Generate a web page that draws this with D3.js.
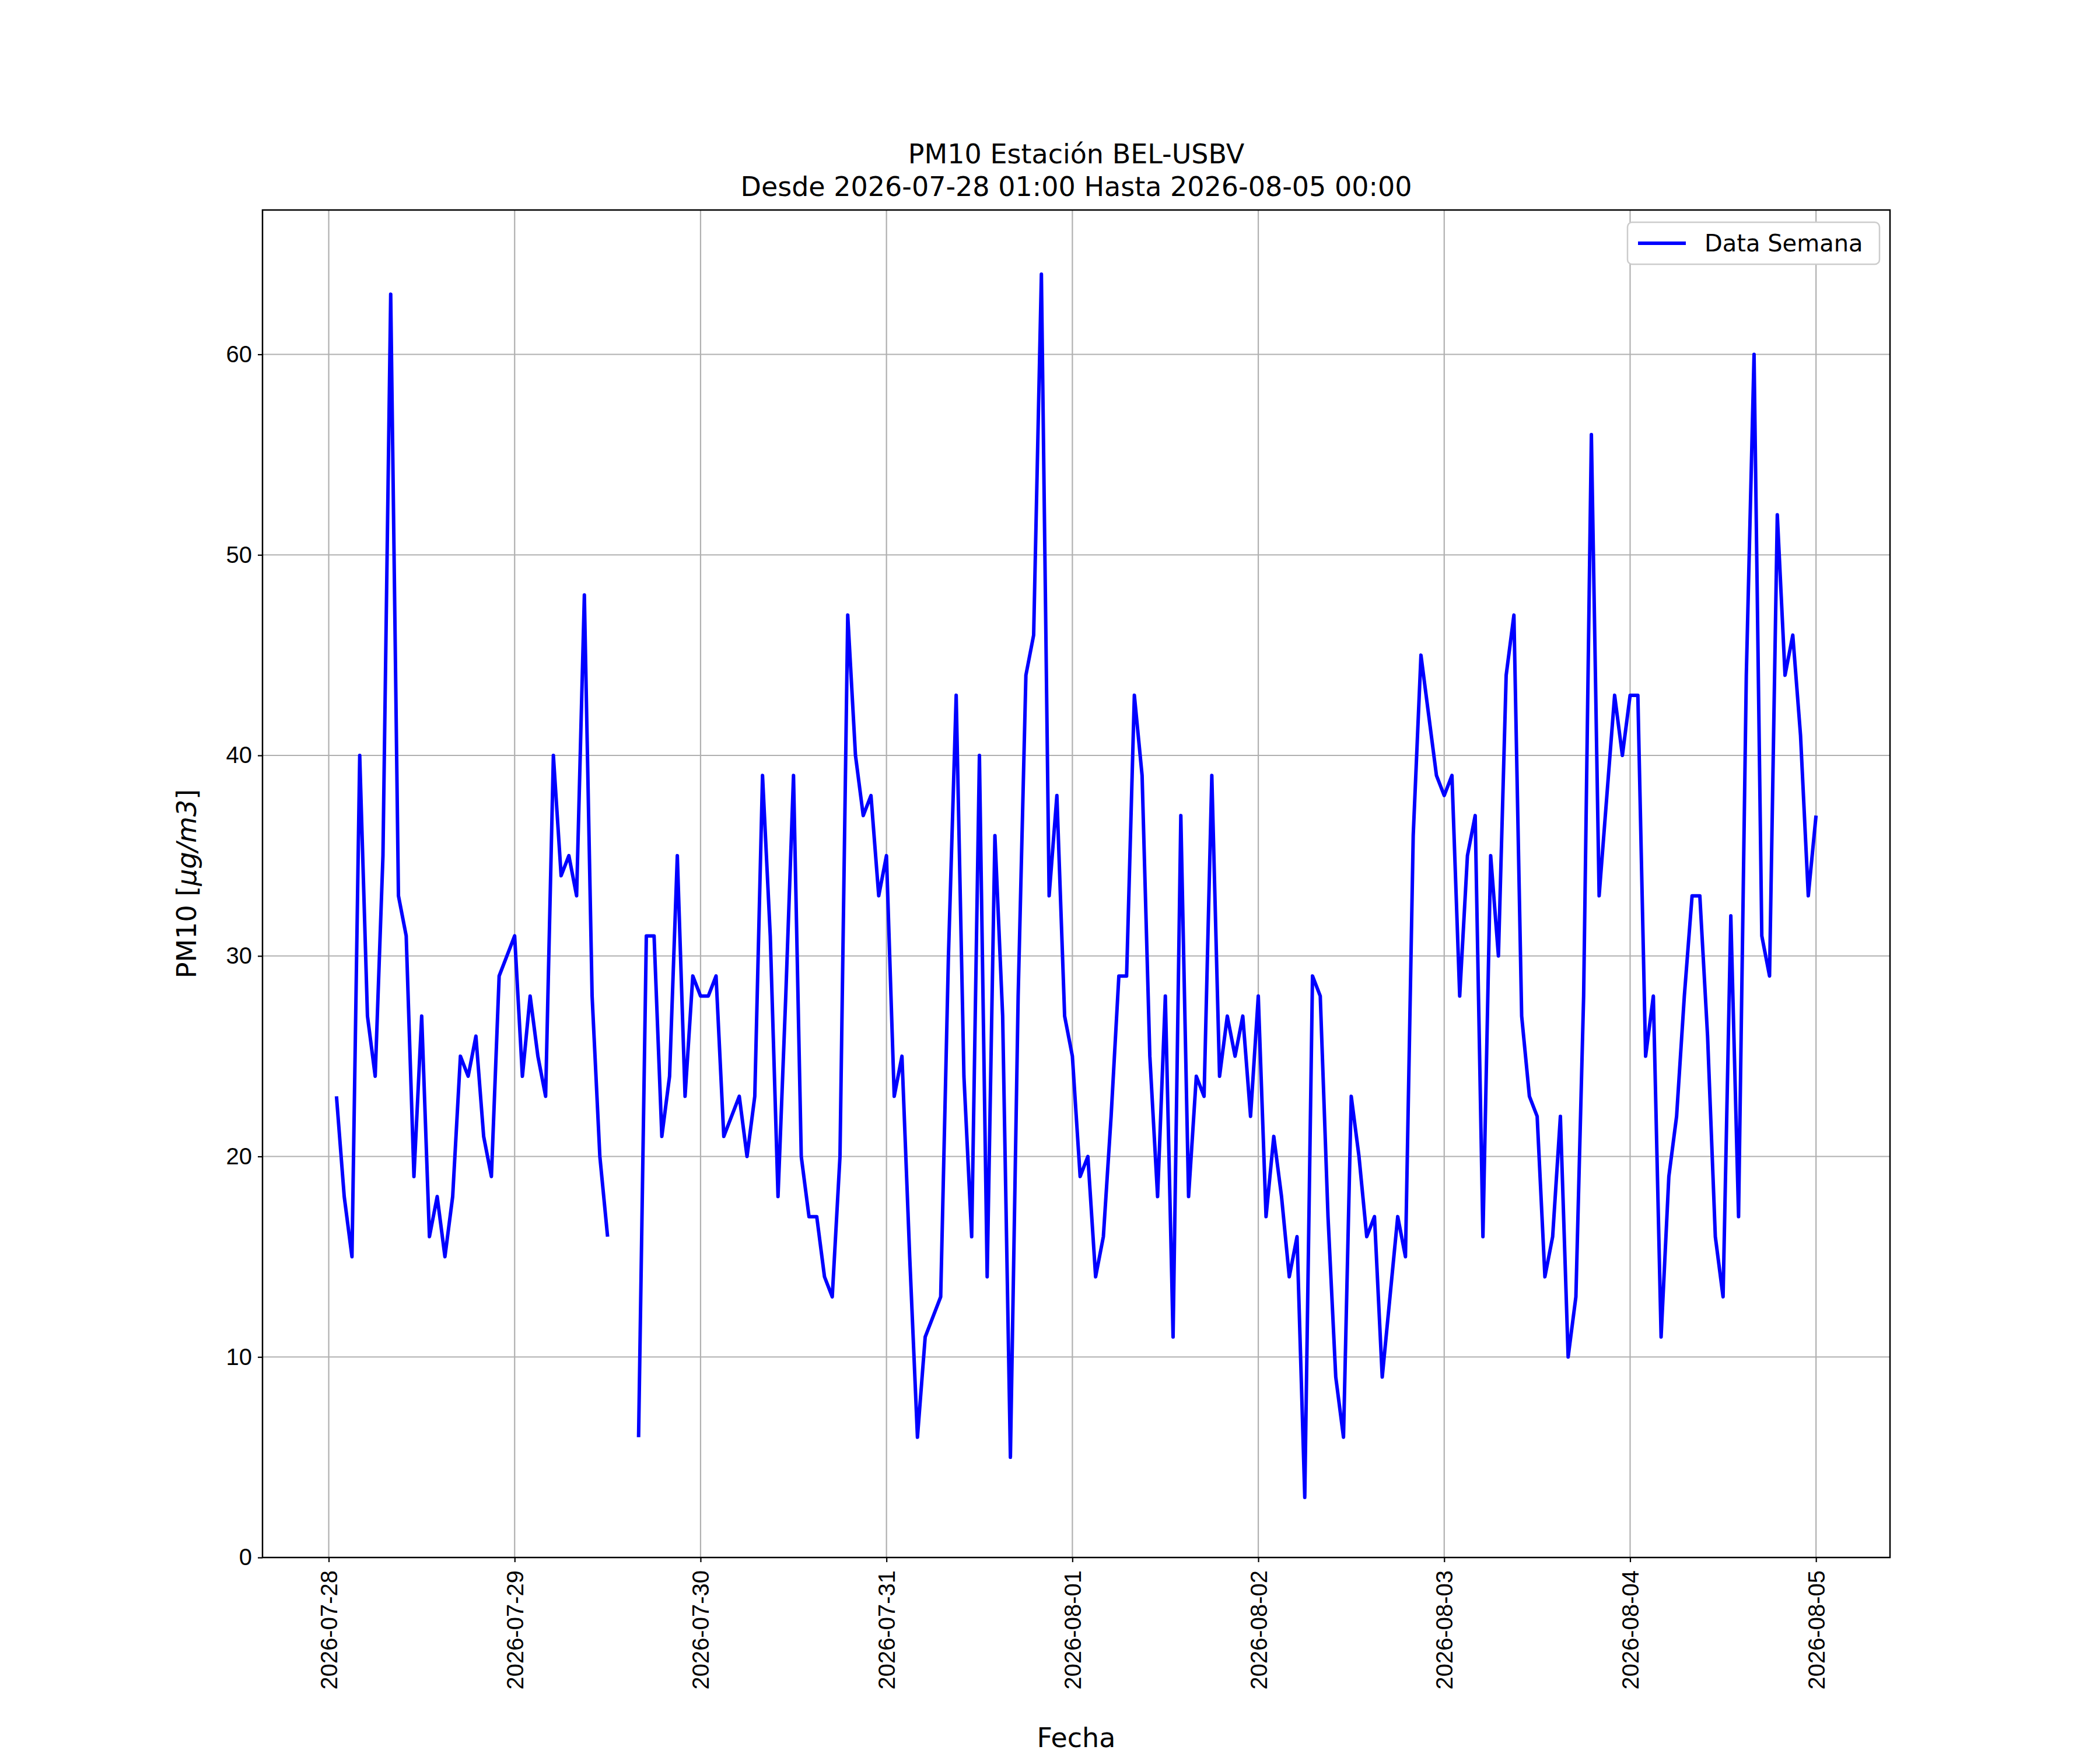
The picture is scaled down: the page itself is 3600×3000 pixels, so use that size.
<!DOCTYPE html>
<html>
<head>
<meta charset="UTF-8" />
<style>
body{margin:0;background:#fff;}
svg{font-family:"DejaVu Sans",sans-serif;}
</style>
</head>
<body>
<svg id="chart" width="3600" height="3000"></svg>
<script src="https://cdn.jsdelivr.net/npm/d3@7"></script>
<script>
// hourly PM10 from 2026-07-28 01:00 to 2026-08-05 00:00 (null = sin dato)
const startTime = Date.UTC(2026, 6, 28, 1);
const pm10 = [
  23,18,15,40,27,24,35,63,33,31,19,27,16,18,15,18,25,24,26,21,19,29,30,31,
  24,28,25,23,40,34,35,33,48,28,20,16,null,null,null,6,31,31,21,24,35,23,29,28,
  28,29,21,22,23,20,23,39,31,18,28,39,20,17,17,14,13,20,47,40,37,38,33,35,
  23,25,15,6,11,12,13,30,43,24,16,40,14,36,27,5,28,44,46,64,33,38,27,25,
  19,20,14,16,22,29,29,43,39,25,18,28,11,37,18,24,23,39,24,27,25,27,22,28,
  17,21,18,14,16,3,29,28,17,9,6,23,20,16,17,9,13,17,15,36,45,42,39,38,
  39,28,35,37,16,35,30,44,47,27,23,22,14,16,22,10,13,28,56,33,38,43,40,43,
  43,25,28,11,19,22,28,33,33,26,16,13,32,17,44,60,31,29,52,44,46,41,33,37
];
const tickDays = ["2026-07-28","2026-07-29","2026-07-30","2026-07-31","2026-08-01","2026-08-02","2026-08-03","2026-08-04","2026-08-05"];
const yTicks = [0,10,20,30,40,50,60];

const H = 3600e3;
const data = pm10.map((v, i) => ({t: new Date(startTime + i * H), v}));
const m = {left: 450, right: 3240, top: 360, bottom: 2670};
const svg = d3.select('#chart');

const t0 = startTime, t1 = startTime + (pm10.length - 1) * H;
const pad = (t1 - t0) * 0.05;
const x = d3.scaleUtc().domain([t0 - pad, t1 + pad]).range([m.left, m.right]);
const y = d3.scaleLinear().domain([0, 67.2]).range([m.bottom, m.top]);

// grid
const grid = svg.append('g').attr('stroke', '#b0b0b0').attr('stroke-width', 2.2);
tickDays.forEach(d => {
  const xx = x(new Date(d + 'T00:00:00Z'));
  grid.append('line').attr('x1', xx).attr('x2', xx).attr('y1', m.top).attr('y2', m.bottom);
});
yTicks.forEach(v => {
  grid.append('line').attr('x1', m.left).attr('x2', m.right).attr('y1', y(v)).attr('y2', y(v));
});

// line
const line = d3.line().defined(d => d.v !== null).x(d => x(d.t)).y(d => y(d.v));
svg.append('path').datum(data).attr('d', line).attr('fill', 'none')
  .attr('stroke', '#0000ff').attr('stroke-width', 6).attr('stroke-linejoin', 'round');

// axes
const xAxis = d3.axisBottom(x).tickValues(tickDays.map(d => new Date(d + 'T00:00:00Z')))
  .tickFormat(d3.utcFormat('%Y-%m-%d')).tickSize(8).tickPadding(10);
const gx = svg.append('g').attr('transform', `translate(0,${m.bottom})`).call(xAxis);
gx.select('.domain').remove();
gx.selectAll('line').attr('stroke-width', 2.2);
gx.selectAll('text').attr('font-size', 40).attr('fill', '#000')
  .attr('transform', 'rotate(-90)').attr('text-anchor', 'end')
  .attr('x', -22).attr('y', 0).attr('dy', '0.35em');

const yAxis = d3.axisLeft(y).tickValues(yTicks).tickSize(8).tickPadding(10);
const gy = svg.append('g').attr('transform', `translate(${m.left},0)`).call(yAxis);
gy.select('.domain').remove();
gy.selectAll('line').attr('stroke-width', 2.2);
gy.selectAll('text').attr('font-size', 40).attr('fill', '#000');

svg.append('rect').attr('x', m.left).attr('y', m.top).attr('width', m.right - m.left)
  .attr('height', m.bottom - m.top).attr('fill', 'none').attr('stroke', '#000').attr('stroke-width', 2.5);

// labels
svg.append('text').attr('x', (m.left + m.right) / 2).attr('y', 2995).attr('text-anchor', 'middle')
  .attr('font-size', 46).text('Fecha');
svg.append('text').attr('transform', `translate(336,${(m.top + m.bottom) / 2}) rotate(-90)`)
  .attr('text-anchor', 'middle').attr('font-size', 46)
  .html('PM10 [<tspan font-style="italic">μg/m3</tspan>]');
svg.append('text').attr('x', (m.left + m.right) / 2).attr('y', 280).attr('text-anchor', 'middle')
  .attr('font-size', 46).text('PM10 Estación BEL-USBV');
svg.append('text').attr('x', (m.left + m.right) / 2).attr('y', 336).attr('text-anchor', 'middle')
  .attr('font-size', 46).text('Desde 2026-07-28 01:00 Hasta 2026-08-05 00:00');

// legend
const lg = svg.append('g').attr('transform', 'translate(2790,381)');
lg.append('rect').attr('width', 432).attr('height', 72).attr('rx', 8).attr('fill', '#fff')
  .attr('stroke', '#ccc').attr('stroke-width', 2.5);
lg.append('line').attr('x1', 18).attr('x2', 100).attr('y1', 36).attr('y2', 36)
  .attr('stroke', '#0000ff').attr('stroke-width', 6);
lg.append('text').attr('x', 132).attr('y', 50).attr('font-size', 40).text('Data Semana');
</script>
</body>
</html>
